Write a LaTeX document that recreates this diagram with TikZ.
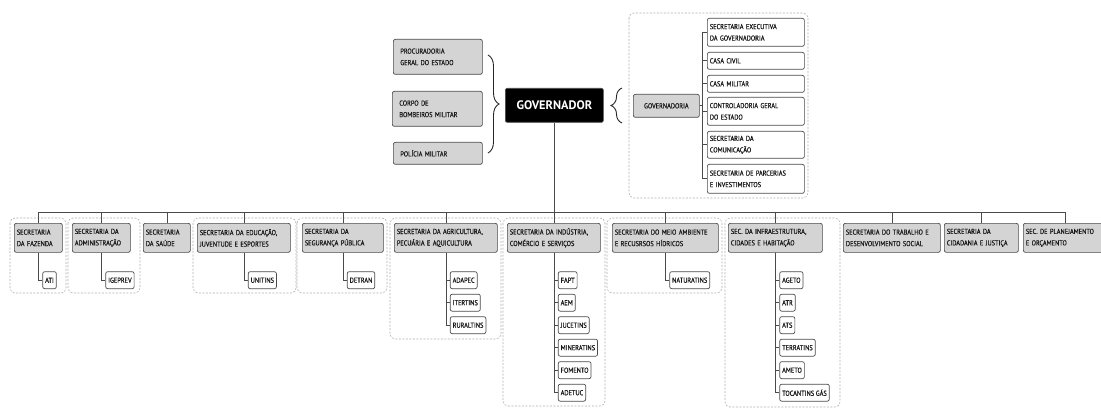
\documentclass[tikz,border=0pt]{standalone}
\usepackage{fontspec}
\setmainfont[FakeStretch=0.88, FakeBold=0.6]{PT Sans}
\newfontfamily\govfont{PT Sans}
\usetikzlibrary{calc,decorations.pathreplacing}

\definecolor{boxgray}{HTML}{D4D4D4}
\definecolor{linegray}{HTML}{4A4A4A}
\definecolor{dashgray}{HTML}{B0B0B0}

\tikzset{
  box/.style={draw=linegray, line width=0.7pt, rounded corners=2pt, anchor=north west,
    inner xsep=2.5pt, inner ysep=0pt, align=left, text=black!90, font=\fontsize{7.2}{11.5}\selectfont},
  sec/.style={box, fill=boxgray, minimum height=29pt},
  gsub/.style={box, fill=white, text width=92pt},
  agency/.style={box, fill=white, anchor=west, inner xsep=2.5pt, minimum height=17pt},
  grp/.style={draw=dashgray, dash pattern=on 2pt off 1.5pt, rounded corners=5pt, line width=0.6pt},
  link/.style={draw=linegray, line width=0.7pt},
  curly/.style={draw=black!85, line width=0.9pt, decorate, decoration={brace, amplitude=11pt}},
}

\begin{document}
\begin{tikzpicture}[x=1pt, y=-1pt]
  \useasboundingbox (0,0) rectangle (1101,417);

  % governor and the boxes beside it
  \node[box, fill=black, text=white, align=center, font=\govfont\fontsize{12.3}{13}\selectfont\bfseries,
    minimum width=98pt, minimum height=34pt] (gov) at (505,88) {GOVERNADOR};
  \node[box, fill=boxgray, inner xsep=7pt, text width=75pt, minimum height=35pt] (pge) at (393,39) {PROCURADORIA\\GERAL DO ESTADO};
  \node[box, fill=boxgray, inner xsep=7pt, text width=76pt, minimum height=35pt] (cbm) at (392,91) {CORPO DE\\BOMBEIROS MILITAR};
  \node[box, fill=boxgray, inner xsep=7pt, text width=75pt, minimum height=22pt] (pm) at (393,142) {POLÍCIA MILITAR};
  \draw[curly] (488,55) -- (488,153);
  \draw[curly] (622,123) -- (622,88);

  % governadoria
  \draw[grp] (629,13) rectangle (808,198);
  \node[box, fill=boxgray, align=center, minimum width=66pt, minimum height=23pt] (gvd) at (633,94) {GOVERNADORIA};
  \node[gsub, minimum height=28pt] (sege) at (707,18) {SECRETARIA EXECUTIVA\\DA GOVERNADORIA};
  \node[gsub, minimum height=17pt] (ccivil) at (707,52) {CASA CIVIL};
  \node[gsub, minimum height=17pt] (cmil) at (707,75) {CASA MILITAR};
  \node[gsub, minimum height=28pt] (cge) at (707,97) {CONTROLADORIA GERAL\\DO ESTADO};
  \node[gsub, minimum height=27pt] (secom) at (707,131) {SECRETARIA DA\\COMUNICAÇÃO};
  \node[gsub, minimum height=29pt] (separ) at (707,164) {SECRETARIA DE PARCERIAS\\E INVESTIMENTOS};
  \coordinate (gj) at ($(gvd.east)+(3,0)$);
  \draw[link] (gvd.east) -- (gj);
  \foreach \c in {sege,ccivil,cmil,cge,secom,separ}
    \draw[link] (gj) |- (\c.west);

  % secretarias
  \draw[grp] (10,218) rectangle (66,293);
  \draw[grp] (68,218) rectangle (140,293);
  \draw[grp] (193,218) rectangle (296,293);
  \draw[grp] (297,218) rectangle (387,293);
  \draw[grp] (390,218) rectangle (501,339);
  \draw[grp] (503,218) rectangle (605,406);
  \draw[grp] (607,218) rectangle (722,293);
  \draw[grp] (725,218) rectangle (840,407);

  \node[sec, text width=43pt] (sefaz) at (14,223) {SECRETARIA\\DA FAZENDA};
  \node[sec, text width=53pt] (sead) at (72,223) {SECRETARIA DA\\ADMINISTRAÇÃO};
  \node[sec, text width=42pt] (sesau) at (143,223) {SECRETARIA\\DA SAÚDE};
  \node[sec, text width=88pt] (seduc) at (197,223) {SECRETARIA DA EDUCAÇÃO,\\JUVENTUDE E ESPORTES};
  \node[sec, text width=76pt] (ssp) at (302,223) {SECRETARIA DA\\SEGURANÇA PÚBLICA};
  \node[sec, text width=98pt] (seagro) at (394,223) {SECRETARIA DA AGRICULTURA,\\PECUÁRIA E AQUICULTURA};
  \node[sec, text width=88pt] (sics) at (507,223) {SECRETARIA DA INDÚSTRIA,\\COMÉRCIO E SERVIÇOS};
  \node[sec, text width=101pt] (semarh) at (612,223) {SECRETARIA DO MEIO AMBIENTE\\E RECUSRSOS HÍDRICOS};
  \node[sec, text width=89pt] (seinf) at (728,223) {SEC. DA INFRAESTRUTURA,\\CIDADES E HABITAÇÃO};
  \node[sec, text width=92pt] (setas) at (843,223) {SECRETARIA DO TRABALHO E\\DESENVOLVIMENTO SOCIAL};
  \node[sec, text width=69pt] (seciju) at (944,223) {SECRETARIA DA\\CIDADANIA E JUSTIÇA};
  \node[sec, text width=79pt] (seplan) at (1023,223) {SEC. DE PLANEJAMENTO\\E ORÇAMENTO};

  \coordinate (bus) at (0,212);
  \draw[link] (gov.south) -- (gov.south |- bus);
  \draw[link] (sefaz.north |- bus) -- (seplan.north |- bus);
  \foreach \s in {sefaz,sead,sesau,seduc,ssp,seagro,sics,semarh,seinf,setas,seciju,seplan}
    \draw[link] (\s.north) -- (\s.north |- bus);

  % vinculadas
  \foreach \s/\list in {sefaz/{ati/ATI}, sead/{igeprev/IGEPREV}, seduc/{unitins/UNITINS},
      ssp/{detran/DETRAN}, seagro/{adapec/ADAPEC,itertins/ITERTINS,ruraltins/RURALTINS},
      sics/{fapt/FAPT,aem/AEM,jucetins/JUCETINS,mineratins/MINERATINS,fomento/FOMENTO,adetuc/ADETUC},
      semarh/{naturatins/NATURATINS},
      seinf/{ageto/AGETO,atr/ATR,ats/ATS,terratins/TERRATINS,ameto/AMETO,tgas/TOCANTINS GÁS}}
    \foreach \n/\t [count=\i] in \list {
      \node[agency] (\n) at ($(\s.south)+(4,5+22.5*\i)$) {\t};
      \draw[link] (\s.south) |- (\n.west);
    };
\end{tikzpicture}
\end{document}
